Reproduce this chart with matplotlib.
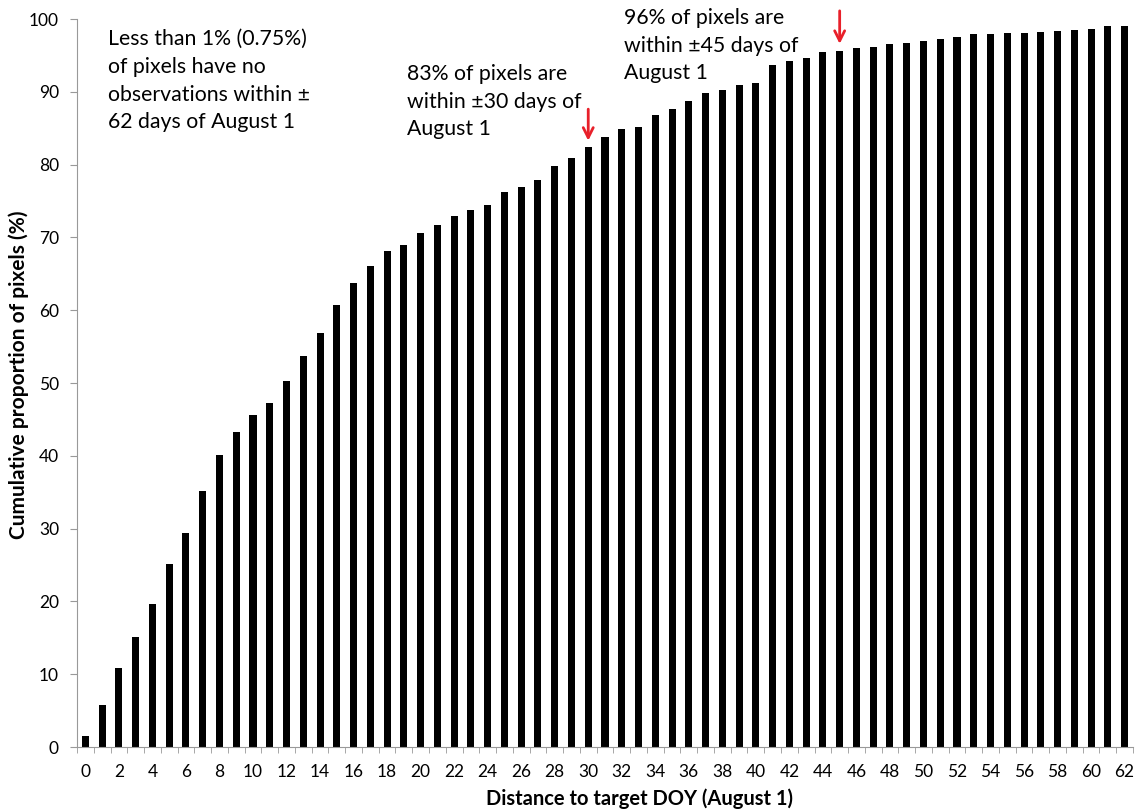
import numpy as np
import matplotlib
matplotlib.use("Agg")
import matplotlib.pyplot as plt

plt.rcParams['font.family'] = ['Lato', 'DejaVu Sans']

# distance to Aug 1 (days) and cumulative % of pixels
days = list(range(63))
cum_pct = [1.5, 5.8, 10.9, 15.1, 19.6, 25.2, 29.4, 35.2, 40.1, 43.3,
           45.6, 47.3, 50.3, 53.7, 56.9, 60.7, 63.8, 66.1, 68.2, 68.9,
           70.6, 71.7, 72.9, 73.7, 74.5, 76.2, 76.9, 77.9, 79.8, 80.9,
           82.4, 83.8, 84.9, 85.2, 86.8, 87.6, 88.7, 89.9, 90.3, 91.0,
           91.2, 93.7, 94.2, 94.7, 95.4, 95.6, 96.0, 96.1, 96.6, 96.7,
           97.0, 97.3, 97.5, 97.9, 98.0, 98.1, 98.1, 98.2, 98.3, 98.5,
           98.6, 99.0, 99.1]
tick_days = days[::2]

note_left = "Less than 1% (0.75%)\nof pixels have no\nobservations within ±\n62 days of August 1"
note_30 = "83% of pixels are\nwithin ±30 days of\nAugust 1"
note_45 = "96% of pixels are\nwithin ±45 days of\nAugust 1"

fig = plt.figure(figsize=(11.36, 8.11), dpi=100)
ax = fig.add_axes([77/1136, 64/811, (1133-77)/1136, (747-19)/811])

ax.bar(days, cum_pct, width=0.42, color='black')
ax.set_xlim(-0.5, 62.5)
ax.set_ylim(0, 100)

ax.set_yticks(range(0, 101, 10))
ax.set_xticks(tick_days)
ax.set_xticks(np.arange(-0.5, 63, 1), minor=True)
ax.tick_params(axis='x', which='major', length=0, labelsize=12.5, pad=12)
ax.tick_params(axis='x', which='minor', length=4, color='#999999')
ax.tick_params(axis='y', length=5, color='#999999', labelsize=12.5, pad=8)

for s in ['top', 'right']:
    ax.spines[s].set_visible(False)
for s in ['left', 'bottom']:
    ax.spines[s].set_color('#999999')

ax.set_xlabel("Distance to target DOY (August 1)", fontsize=14.5, fontweight='bold')
ax.set_ylabel("Cumulative proportion of pixels (%)", fontsize=15, fontweight='bold')
ax.xaxis.set_label_coords(0.533, -0.057)
ax.yaxis.set_label_coords(-0.045, 0.511)

ax.text(1.35, 98.6, note_left, fontsize=15.3, va='top', ha='left', linespacing=1.48)
ax.text(19.2, 93.8, note_30, fontsize=15.3, va='top', ha='left', linespacing=1.48)
ax.text(32.15, 101.5, note_45, fontsize=15.3, va='top', ha='left', linespacing=1.48,
        clip_on=False)

arrow = dict(arrowstyle='->', color='#e8202a', lw=2, mutation_scale=18)
ax.annotate('', xy=(30, 82.9), xytext=(30, 88.0), arrowprops=arrow)
ax.annotate('', xy=(45, 96.2), xytext=(45, 101.5), arrowprops=arrow,
            annotation_clip=False)

fig.savefig("out.png", dpi=100)
